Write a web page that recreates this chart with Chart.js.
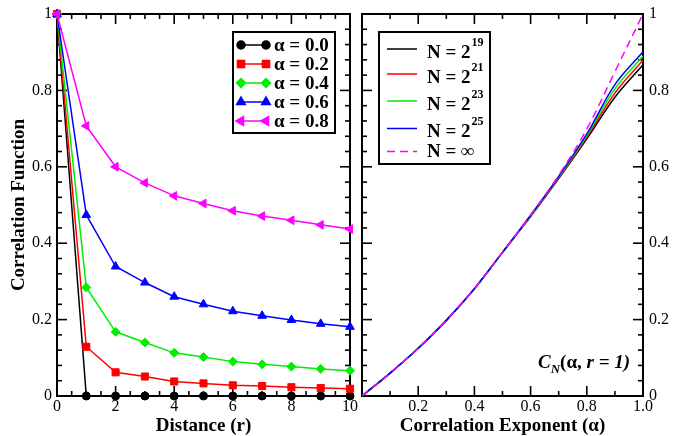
<!DOCTYPE html>
<html>
<head>
<meta charset="utf-8">
<script src="https://cdn.jsdelivr.net/npm/chart.js@4.4.0/dist/chart.umd.min.js"></script>
<style>
body { margin: 0; background: #fff; }
#wrap { position: relative; width: 685px; height: 436px; overflow: hidden; }
#left { position: absolute; left: 0; top: 0; }
#right { position: absolute; left: 340px; top: 0; }
</style>
</head>
<body>
<div id="wrap">
  <canvas id="left" width="380" height="436"></canvas>
  <canvas id="right" width="345" height="436"></canvas>
</div>
<script>
// ---------------------------- data ----------------------------
const distance = [0, 1, 2, 3, 4, 5, 6, 7, 8, 9, 10];
const corrA00 = [1, 0, 0, 0, 0, 0, 0, 0, 0, 0, 0];
const corrA02 = [1, 0.129, 0.062, 0.051, 0.038, 0.033, 0.028, 0.026, 0.023, 0.021, 0.019];
const corrA04 = [1, 0.284, 0.168, 0.140, 0.113, 0.102, 0.090, 0.083, 0.077, 0.071, 0.066];
const corrA06 = [1, 0.474, 0.339, 0.297, 0.260, 0.240, 0.222, 0.210, 0.199, 0.189, 0.181];
const corrA08 = [1, 0.707, 0.600, 0.558, 0.524, 0.504, 0.485, 0.471, 0.460, 0.448, 0.437];
const alphaLabels = ['α = 0.0', 'α = 0.2', 'α = 0.4', 'α = 0.6', 'α = 0.8'];

const alphaVals = [0, 0.1, 0.2, 0.3, 0.4, 0.5, 0.6, 0.7, 0.8, 0.9, 1.0];
const cN19 = [0, 0.060, 0.125, 0.198, 0.281, 0.376, 0.470, 0.569, 0.673, 0.782, 0.867];
const cN21 = [0, 0.060, 0.125, 0.198, 0.281, 0.376, 0.471, 0.571, 0.678, 0.793, 0.879];
const cN23 = [0, 0.060, 0.125, 0.198, 0.281, 0.376, 0.472, 0.573, 0.682, 0.804, 0.890];
const cN25 = [0, 0.060, 0.125, 0.198, 0.281, 0.376, 0.473, 0.575, 0.686, 0.815, 0.901];
const cNinf = [0, 0.060, 0.125, 0.198, 0.281, 0.376, 0.474, 0.578, 0.699, 0.849, 1.0];
const nLabelBase = ['N = 2', 'N = 2', 'N = 2', 'N = 2', 'N = ∞'];
const nLabelSup = ['19', '21', '23', '25', ''];

// ---------------------------------------------------------------------------------
const SERIF = "'Liberation Serif', 'Times New Roman', serif";
const pts = (xs, ys) => xs.map((x, i) => ({x: x, y: ys[i]}));

function yLabel(v) {
    if (Math.abs(v) < 1e-9) return '0';
    if (Math.abs(v - 1) < 1e-9) return '1';
    return v.toFixed(1);
}

// box around plot area with inward ticks on all four sides
const frameTicks = {
    id: 'frameTicks',
    beforeDatasetsDraw(chart, args, opts) {
        const ctx = chart.ctx, a = chart.chartArea;
        const sx = chart.scales.x, sy = chart.scales.y;
        ctx.save();
        ctx.strokeStyle = '#000';
        ctx.lineWidth = 1.6;
        function seg(x1, y1, x2, y2) {
            ctx.beginPath(); ctx.moveTo(x1, y1); ctx.lineTo(x2, y2); ctx.stroke();
        }
        let n = Math.round((sx.max - sx.min) / opts.xMinor);
        for (let i = 0; i <= n; i++) {
            const v = sx.min + i * opts.xMinor;
            const r = v / opts.xMajor;
            const len = Math.abs(r - Math.round(r)) < 1e-6 ? 10 : 5;
            const px = sx.getPixelForValue(v);
            seg(px, a.bottom, px, a.bottom - len);
            seg(px, a.top, px, a.top + len);
        }
        n = Math.round((sy.max - sy.min) / opts.yMinor);
        for (let i = 0; i <= n; i++) {
            const v = sy.min + i * opts.yMinor;
            const r = v / opts.yMajor;
            const len = Math.abs(r - Math.round(r)) < 1e-6 ? 10 : 5;
            const py = sy.getPixelForValue(v);
            seg(a.left, py, a.left + len, py);
            seg(a.right, py, a.right - len, py);
        }
        ctx.lineWidth = 2;
        ctx.strokeRect(a.left, a.top, a.right - a.left, a.bottom - a.top);
        ctx.restore();
    }
};

function boxLegend(ctx, x, y, w, h) {
    ctx.fillStyle = '#fff';
    ctx.fillRect(x, y, w, h);
    ctx.strokeStyle = '#000';
    ctx.lineWidth = 2;
    ctx.strokeRect(x, y, w, h);
}

const legendLeft = {
    id: 'legendLeft',
    afterDatasetsDraw(chart) {
        const ctx = chart.ctx;
        const rows = [45, 64, 83, 102, 121];
        ctx.save();
        boxLegend(ctx, 233, 32, 102, 101);
        chart.data.datasets.forEach((ds, i) => {
            const yy = rows[i];
            ctx.strokeStyle = ds.borderColor;
            ctx.fillStyle = ds.backgroundColor;
            ctx.lineWidth = 1.5;
            ctx.beginPath(); ctx.moveTo(241, yy); ctx.lineTo(266, yy); ctx.stroke();
            const po = {pointStyle: ds.pointStyle, rotation: ds.pointRotation || 0,
                        radius: ds.pointRadius, borderWidth: 1};
            Chart.helpers.drawPoint(ctx, po, 241, yy);
            Chart.helpers.drawPoint(ctx, po, 266, yy);
            ctx.fillStyle = '#000';
            ctx.textBaseline = 'middle';
            ctx.font = 'bold 19px ' + SERIF;
            ctx.fillText(ds.label, 274, yy + 1);
        });
        ctx.restore();
    }
};

const legendRight = {
    id: 'legendRight',
    afterDatasetsDraw(chart) {
        const ctx = chart.ctx;
        const off = 340;
        const lineRows = [49, 74, 101, 128.5, 151.5];
        const textRows = [53, 78, 105, 132, 152];
        ctx.save();
        boxLegend(ctx, 379 - off, 32, 111, 132);
        chart.data.datasets.forEach((ds, i) => {
            ctx.strokeStyle = ds.borderColor;
            ctx.lineWidth = 1.5;
            ctx.setLineDash(ds.borderDash || []);
            ctx.beginPath(); ctx.moveTo(387 - off, lineRows[i]); ctx.lineTo(417 - off, lineRows[i]); ctx.stroke();
            ctx.setLineDash([]);
            ctx.fillStyle = '#000';
            ctx.textBaseline = 'middle';
            ctx.font = 'bold 19px ' + SERIF;
            ctx.fillText(nLabelBase[i], 427 - off, textRows[i]);
            if (nLabelSup[i]) {
                const w = ctx.measureText(nLabelBase[i]).width;
                ctx.font = 'bold 12px ' + SERIF;
                ctx.fillText(nLabelSup[i], 427 - off + w + 1, textRows[i] - 10);
            }
        });
        // C_N(alpha, r = 1) annotation
        let x = 538 - off;
        const base = 368;
        ctx.textBaseline = 'alphabetic';
        ctx.font = 'italic bold 19px ' + SERIF;
        ctx.fillText('C', x, base);
        x += ctx.measureText('C').width;
        ctx.font = 'italic bold 13px ' + SERIF;
        ctx.fillText('N', x, base + 5);
        x += ctx.measureText('N').width;
        ctx.font = 'bold 19px ' + SERIF;
        ctx.fillText('(α, ', x, base);
        x += ctx.measureText('(α, ').width;
        ctx.font = 'italic bold 19px ' + SERIF;
        ctx.fillText('r = 1)', x, base);
        ctx.restore();
    }
};

function fixY(width) {
    return function(scale) {
        scale.width = width;
        scale.paddingTop = 0; scale.paddingBottom = 0;
    };
}
function fixX(height) {
    return function(scale) {
        scale.height = height;
        scale.paddingLeft = 0; scale.paddingRight = 0;
    };
}

const tickFont = {family: SERIF, size: 16};
const titleFont = {family: SERIF, size: 19, weight: 'bold', lineHeight: 1};

// ------------------------------------ left panel ------------------------------------
const leftSets = [
    {label: alphaLabels[0], data: pts(distance, corrA00), borderColor: '#000000', backgroundColor: '#000000', pointStyle: 'circle', pointRadius: 4},
    {label: alphaLabels[1], data: pts(distance, corrA02), borderColor: '#ff0000', backgroundColor: '#ff0000', pointStyle: 'rect', pointRadius: 5},
    {label: alphaLabels[2], data: pts(distance, corrA04), borderColor: '#00ee00', backgroundColor: '#00ee00', pointStyle: 'rectRot', pointRadius: 4.5},
    {label: alphaLabels[3], data: pts(distance, corrA06), borderColor: '#0000ff', backgroundColor: '#0000ff', pointStyle: 'triangle', pointRadius: 5},
    {label: alphaLabels[4], data: pts(distance, corrA08), borderColor: '#ff00ff', backgroundColor: '#ff00ff', pointStyle: 'triangle', pointRotation: 270, pointRadius: 5}
];
// later series are drawn on top, as in the figure
leftSets.forEach((ds, i) => { ds.borderWidth = 1.5; ds.pointBorderWidth = 1; ds.clip = false; ds.tension = 0; ds.order = 5 - i; });

new Chart(document.getElementById('left'), {
    type: 'line',
    data: {datasets: leftSets},
    options: {
        responsive: false,
        animation: false,
        layout: {padding: {top: 14, right: 30, left: 0, bottom: 0}},
        plugins: {
            legend: {display: false},
            tooltip: {enabled: false},
            frameTicks: {xMajor: 2, xMinor: 0.5, yMajor: 0.2, yMinor: 0.04}
        },
        scales: {
            x: {
                type: 'linear', min: 0, max: 10,
                grid: {display: false, drawTicks: false},
                border: {display: false},
                ticks: {stepSize: 2, font: tickFont, color: '#000', padding: 1, maxRotation: 0},
                title: {display: true, text: 'Distance (r)', font: titleFont, color: '#000', padding: 0},
                afterFit: fixX(40)
            },
            y: {
                min: 0, max: 1,
                grid: {display: false, drawTicks: false},
                border: {display: false},
                ticks: {stepSize: 0.2, font: tickFont, color: '#000', padding: 5, callback: yLabel},
                title: {display: true, text: 'Correlation Function', font: titleFont, color: '#000', padding: {top: 10, bottom: 0}},
                afterFit: fixY(57)
            }
        }
    },
    plugins: [frameTicks, legendLeft]
});

// ------------------------------------ right panel ------------------------------------
const rightSets = [
    {label: 'N19', data: pts(alphaVals, cN19), borderColor: '#000000'},
    {label: 'N21', data: pts(alphaVals, cN21), borderColor: '#ff0000'},
    {label: 'N23', data: pts(alphaVals, cN23), borderColor: '#00ee00'},
    {label: 'N25', data: pts(alphaVals, cN25), borderColor: '#0000ff'},
    {label: 'Ninf', data: pts(alphaVals, cNinf), borderColor: '#ff00ff', borderDash: [8, 5]}
];
rightSets.forEach((ds, i) => { ds.borderWidth = 1.5; ds.pointRadius = 0; ds.tension = 0.35; ds.fill = false; ds.order = 5 - i; });

new Chart(document.getElementById('right'), {
    type: 'line',
    data: {datasets: rightSets},
    options: {
        responsive: false,
        animation: false,
        layout: {padding: {top: 14, right: 0, left: 22, bottom: 0}},
        plugins: {
            legend: {display: false},
            tooltip: {enabled: false},
            frameTicks: {xMajor: 0.2, xMinor: 0.1, yMajor: 0.2, yMinor: 0.04}
        },
        scales: {
            x: {
                type: 'linear', min: 0, max: 1,
                grid: {display: false, drawTicks: false},
                border: {display: false},
                ticks: {stepSize: 0.2, font: tickFont, color: '#000', padding: 1, maxRotation: 0,
                        callback: v => Math.abs(v) < 1e-9 ? '' : v.toFixed(1)},
                title: {display: true, text: 'Correlation Exponent (α)', font: titleFont, color: '#000', padding: 0},
                afterFit: fixX(40)
            },
            y: {
                position: 'right',
                min: 0, max: 1,
                grid: {display: false, drawTicks: false},
                border: {display: false},
                ticks: {stepSize: 0.2, font: tickFont, color: '#000', padding: 6, callback: yLabel},
                afterFit: fixY(42)
            }
        }
    },
    plugins: [frameTicks, legendRight]
});
</script>
</body>
</html>
